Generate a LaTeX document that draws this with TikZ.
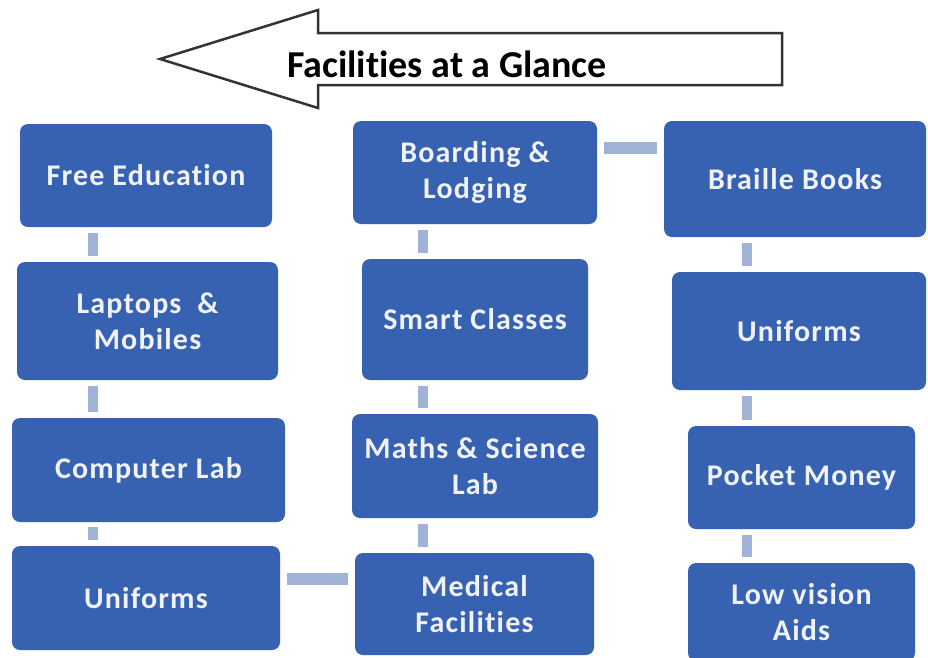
\documentclass[tikz,border=0pt]{standalone}
\usepackage{fontspec}
\setmainfont[Ligatures=NoCommon]{Carlito}
\newfontfamily\boxfont[LetterSpace=4,Ligatures=NoCommon]{Carlito}
\definecolor{boxblue}{RGB}{55,98,178}
\definecolor{barblue}{RGB}{160,178,214}
\definecolor{boxtext}{RGB}{240,242,248}

\begin{document}
\begin{tikzpicture}[
    x=1pt,
    y=-1pt,
    line join=round,
    item/.style={
        fill=boxblue,
        rounded corners=8pt,
        inner sep=0pt,
        align=center,
        text=boxtext,
        font=\boxfont\bfseries\fontsize{30}{36}\selectfont
    },
    vbar/.style={line width=10pt,barblue,shorten <=6pt,shorten >=6pt},
    hbar/.style={line width=12pt,barblue,shorten <=7pt,shorten >=7pt},
    banner/.style={draw=black!80,line width=2.5pt,fill=white,line join=miter},
    title/.style={inner sep=0pt,font=\bfseries\fontsize{38}{42}\selectfont}
]

\fill[white] (0,0) rectangle (928,657);
\useasboundingbox (0,0) rectangle (928,657);

% Heading arrow.
\draw[banner] (782,33) -- (318,33) -- (318,10) -- (160,59) -- (318,108) -- (318,85) -- (782,85) -- cycle;
\node[title,anchor=base west] (head) at (287,77) {Facilities at a Glance};

% Left column.
\node[item,minimum width=252,minimum height=103] (free) at (146,175.5) {Free Education};
\node[item,minimum width=261,minimum height=118] (laptops) at (147.5,321) {Laptops~ \&\\Mobiles};
\node[item,minimum width=273,minimum height=104] (complab) at (148.5,470) {Computer Lab};
\node[item,minimum width=268,minimum height=104] (unifl) at (146,598) {Uniforms};

% Middle column.
\node[item,minimum width=244,minimum height=103] (boarding) at (475,172.5) {Boarding \&\\Lodging};
\node[item,minimum width=226,minimum height=121] (smart) at (475,319.5) {Smart Classes};
\node[item,minimum width=246,minimum height=104] (maths) at (475,466) {Maths \& Science\\Lab};
\node[item,minimum width=239,minimum height=102] (medical) at (474.5,604) {Medical\\Facilities};

% Right column.
\node[item,minimum width=262,minimum height=116] (braille) at (795,179) {Braille Books};
\node[item,minimum width=254,minimum height=118] (unifr) at (799,331) {Uniforms};
\node[item,minimum width=227,minimum height=103] (pocket) at (801.5,477.5) {Pocket Money};
\node[item,minimum width=227,minimum height=98] (lowvision) at (801.5,612) {Low vision\\Aids};

% Bar positions.
\coordinate (lbar) at (93,0);
\coordinate (mbar) at (423,0);
\coordinate (rbar) at (747,0);
\coordinate (toprow) at (0,148);
\coordinate (botrow) at (0,579);

\draw[vbar] (free.south -| lbar) -- (laptops.north -| lbar);
\draw[vbar] (laptops.south -| lbar) -- (complab.north -| lbar);
\draw[vbar,shorten <=5pt,shorten >=6pt] (complab.south -| lbar) -- (unifl.north -| lbar);

\draw[vbar] (boarding.south -| mbar) -- (smart.north -| mbar);
\draw[vbar] (smart.south -| mbar) -- (maths.north -| mbar);
\draw[vbar] (maths.south -| mbar) -- (medical.north -| mbar);

\draw[vbar] (braille.south -| rbar) -- (unifr.north -| rbar);
\draw[vbar] (unifr.south -| rbar) -- (pocket.north -| rbar);
\draw[vbar] (pocket.south -| rbar) -- (lowvision.north -| rbar);

\draw[hbar] (unifl.east |- botrow) -- (medical.west |- botrow);
\draw[hbar] (boarding.east |- toprow) -- (braille.west |- toprow);

\end{tikzpicture}
\end{document}
